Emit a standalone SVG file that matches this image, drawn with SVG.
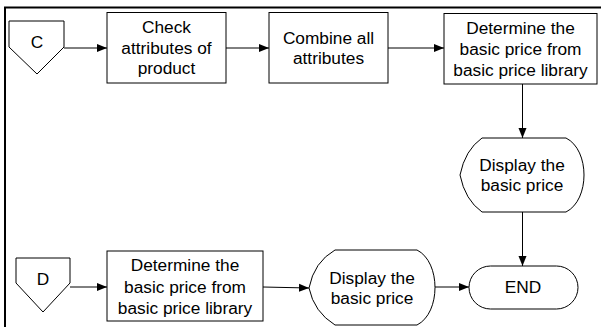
<svg xmlns="http://www.w3.org/2000/svg" width="601" height="327" viewBox="0 0 601 327">
<style>
.s{fill:#fff;stroke:#000;stroke-width:1}
.t{font-family:"Liberation Sans",Arial,sans-serif;font-size:17.3px;fill:#000;text-anchor:middle;dominant-baseline:central}
.c{fill:none;stroke:#000;stroke-width:1;marker-end:url(#a)}
</style>
<defs>
<marker id="a" viewBox="0 0 10 10" refX="10" refY="5" markerWidth="10" markerHeight="10" markerUnits="userSpaceOnUse" orient="auto">
<path d="M0,1 L10,5 L0,9 Z" fill="#000"/>
</marker>
</defs>
<rect width="601" height="327" fill="#fff"/>
<path d="M5,327 V7.5 H601" fill="none" stroke="#000" stroke-width="2"/>
<g id="connectors">
<path class="c" d="M64,48 H107"/>
<path class="c" d="M226,48 H269"/>
<path class="c" d="M388,48 H444"/>
<path class="c" d="M522.5,84 V138"/>
<path class="c" d="M522.5,212 V266"/>
<path class="c" d="M70,287 H107"/>
<path class="c" d="M263,287 L309,288"/>
<path class="c" d="M435,287 H469"/>
</g>
<g id="C">
<path class="s" d="M9,21 H64 V47 L37,74 L9,47 Z"/>
<text class="t" x="37" y="42">C</text>
</g>
<g id="check">
<rect class="s" x="107" y="12.5" width="119" height="70.5"/>
<text class="t" x="166.5" y="27">Check</text>
<text class="t" x="166.5" y="48">attributes of</text>
<text class="t" x="166.5" y="68">product</text>
</g>
<g id="combine">
<rect class="s" x="269" y="12.5" width="119" height="70.5"/>
<text class="t" x="328.5" y="38">Combine all</text>
<text class="t" x="328.5" y="58">attributes</text>
</g>
<g id="determine1">
<rect class="s" x="444" y="13.5" width="153" height="70.5"/>
<text class="t" x="520.5" y="27.5">Determine the</text>
<text class="t" x="520.5" y="48.5">basic price from</text>
<text class="t" x="520.5" y="70">basic price library</text>
</g>
<g id="display1">
<path class="s" d="M482,138 H566 C590,150 590,200 566,212 H482 Q465,200 460,175 Q465,150 482,138 Z"/>
<text class="t" x="522" y="165">Display the</text>
<text class="t" x="522" y="185">basic price</text>
</g>
<g id="D">
<path class="s" d="M16,258 H70 V283 L43,312 L16,283 Z"/>
<text class="t" x="43" y="279">D</text>
</g>
<g id="determine2">
<rect class="s" x="107" y="251" width="156" height="70"/>
<text class="t" x="185" y="265">Determine the</text>
<text class="t" x="185" y="286.5">basic price from</text>
<text class="t" x="185" y="308">basic price library</text>
</g>
<g id="display2">
<path class="s" d="M335,250 H417 C441,262 441,313 417,325 H335 Q314,312 309,288 Q314,262 335,250 Z"/>
<text class="t" x="372" y="278">Display the</text>
<text class="t" x="372" y="298">basic price</text>
</g>
<g id="end">
<rect class="s" x="469" y="266" width="109" height="43" rx="21.5"/>
<text class="t" x="523" y="287">END</text>
</g>
</svg>
